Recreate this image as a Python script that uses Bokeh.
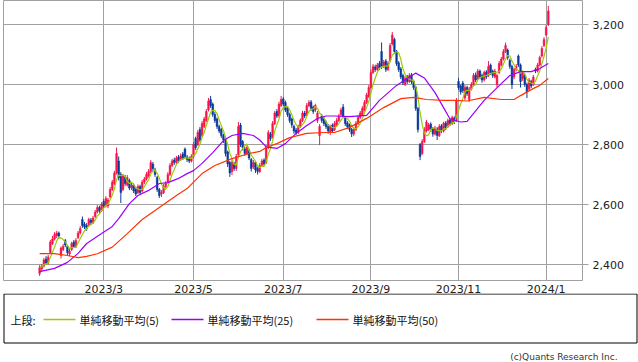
import pandas as pd
from bokeh.plotting import figure
from bokeh.models import Range1d, FixedTicker, NumeralTickFormatter, ColumnDataSource
from bokeh.embed import file_html
from bokeh.resources import INLINE
from bokeh.core.properties import value

# ---- daily OHLC (trading days, 2023/1/17 .. 2024/1/5) ----
opens = [2370,2385,2395,2418,2405,2440,2470,2485,2495,2505,
         2430,2450,2480,2460,2435,2450,2475,2460,2490,2505,
         2550,2535,2530,2530,2548,2540,2560,2575,2590,2580,
         2610,2595,2595,2625,2650,2670,2705,2745,2700,2650,
         2690,2665,2680,2655,2665,2650,2640,2660,2645,2675,
         2685,2695,2710,2735,2715,2690,2650,2635,2640,2660,
         2675,2700,2730,2748,2740,2758,2750,2768,2785,2758,
         2752,2745,2760,2820,2800,2850,2830,2860,2880,2915,
         2950,2935,2900,2885,2860,2850,2830,2815,2775,2740,
         2710,2735,2720,2765,2865,2810,2785,2770,2780,2750,
         2725,2740,2720,2710,2730,2748,2740,2790,2835,2825,
         2870,2910,2895,2930,2952,2940,2920,2900,2885,2860,
         2848,2840,2860,2880,2905,2900,2930,2942,2925,2915,
         2880,2830,2895,2885,2875,2862,2840,2865,2850,2865,
         2880,2900,2925,2890,2872,2865,2850,2835,2850,2870,
         2890,2900,2915,2940,2960,2990,3040,3058,3050,3070,
         3110,3060,3078,3050,3080,3135,3150,3110,3072,3052,
         3030,3000,3025,3010,3032,3010,2990,2920,2800,2770,
         2810,2845,2850,2868,2852,2835,2852,2830,2862,2845,
         2872,2860,2882,2870,2888,2880,3010,2995,3005,2955,
         2990,2950,2985,3000,3032,3020,3045,3030,3015,3042,
         3030,3065,3045,3025,3000,3040,3065,3085,3110,3115,
         3080,3060,3025,3050,3095,3065,3020,3030,3000,2985,
         3010,3000,3050,3045,3065,3095,3130,3165,3200]
closes = [2390,2395,2415,2405,2425,2475,2485,2500,2505,2495,
          2455,2460,2465,2440,2445,2470,2460,2480,2505,2520,
          2530,2525,2520,2550,2540,2555,2575,2590,2580,2600,
          2595,2620,2615,2650,2675,2705,2770,2690,2640,2695,
          2670,2690,2655,2665,2645,2635,2660,2640,2675,2685,
          2700,2710,2740,2720,2700,2650,2630,2640,2660,2670,
          2700,2730,2745,2740,2755,2745,2762,2755,2760,2750,
          2745,2760,2800,2790,2840,2815,2870,2885,2910,2945,
          2930,2900,2880,2860,2845,2830,2815,2770,2735,2705,
          2740,2720,2760,2860,2800,2790,2770,2790,2755,2720,
          2740,2715,2710,2730,2745,2735,2790,2840,2820,2870,
          2905,2895,2935,2950,2935,2915,2900,2880,2865,2845,
          2840,2860,2880,2905,2895,2930,2940,2920,2910,2930,
          2905,2860,2880,2870,2860,2845,2860,2845,2870,2880,
          2895,2915,2895,2870,2860,2850,2835,2850,2870,2890,
          2905,2920,2940,2965,2990,3040,3060,3050,3065,3055,
          3060,3075,3050,3070,3130,3165,3110,3070,3050,3025,
          3005,3020,3010,3030,3010,2990,2920,2850,2760,2810,
          2850,2875,2865,2850,2835,2855,2830,2860,2845,2870,
          2855,2880,2870,2890,2875,2945,2990,2975,2980,2990,
          2970,2985,3000,3030,3015,3045,3025,3015,3040,3025,
          3060,3040,3030,3045,3030,3070,3085,3110,3130,3090,
          3060,3000,3050,3060,3065,3010,3040,3000,2975,3015,
          2995,3025,3045,3065,3090,3120,3150,3190,3245]
highs = [2398,2402,2422,2428,2432,2482,2495,2508,2512,2510,
         2460,2468,2485,2465,2452,2476,2482,2488,2512,2528,
         2560,2542,2538,2556,2555,2562,2582,2598,2596,2608,
         2618,2628,2622,2658,2682,2712,2790,2760,2708,2702,
         2698,2698,2686,2672,2670,2656,2667,2666,2682,2692,
         2708,2718,2748,2742,2722,2695,2655,2648,2668,2678,
         2708,2738,2752,2756,2762,2765,2770,2775,2790,2765,
         2760,2768,2808,2826,2848,2858,2878,2892,2918,2955,
         2962,2940,2908,2890,2866,2855,2836,2820,2780,2745,
         2748,2742,2768,2875,2872,2815,2792,2798,2786,2755,
         2748,2745,2726,2738,2752,2754,2798,2848,2842,2878,
         2912,2918,2942,2962,2958,2946,2926,2906,2890,2866,
         2855,2866,2887,2912,2912,2938,2948,2948,2930,2936,
         2912,2868,2902,2892,2880,2868,2866,2870,2878,2888,
         2902,2922,2935,2895,2878,2870,2855,2858,2878,2898,
         2912,2928,2948,2972,2998,3050,3068,3066,3072,3078,
         3140,3082,3085,3078,3138,3175,3156,3115,3078,3058,
         3036,3028,3032,3038,3038,3016,2995,2925,2805,2818,
         2858,2882,2872,2874,2858,2862,2858,2868,2868,2876,
         2878,2886,2888,2896,2894,2955,3022,3000,3012,2998,
         2996,2992,3008,3038,3040,3052,3050,3036,3046,3048,
         3078,3070,3050,3052,3036,3078,3092,3118,3140,3120,
         3086,3066,3056,3068,3100,3070,3046,3036,3006,3022,
         3016,3032,3056,3072,3096,3128,3158,3198,3262]
lows = [2362,2378,2390,2400,2400,2435,2465,2480,2488,2485,
        2420,2445,2458,2432,2428,2445,2455,2455,2485,2500,
        2522,2518,2512,2525,2532,2535,2555,2570,2572,2575,
        2588,2590,2588,2620,2645,2665,2700,2680,2605,2645,
        2662,2660,2648,2648,2638,2628,2635,2632,2640,2668,
        2680,2690,2705,2712,2692,2642,2622,2625,2635,2655,
        2670,2695,2725,2732,2735,2738,2745,2748,2752,2742,
        2738,2740,2755,2782,2795,2808,2825,2855,2875,2910,
        2922,2892,2872,2852,2838,2822,2805,2760,2725,2692,
        2698,2712,2712,2760,2792,2780,2762,2765,2748,2710,
        2718,2705,2700,2705,2725,2728,2735,2785,2812,2820,
        2865,2888,2890,2925,2928,2908,2892,2872,2856,2836,
        2832,2835,2855,2875,2888,2895,2925,2912,2902,2908,
        2872,2798,2872,2862,2852,2836,2832,2838,2845,2860,
        2875,2895,2888,2862,2852,2842,2825,2828,2845,2865,
        2885,2895,2910,2935,2955,2985,3035,3042,3045,3048,
        3052,3055,3042,3045,3075,3130,3102,3062,3042,3018,
        2998,2995,3002,3005,3002,2982,2912,2840,2748,2765,
        2805,2840,2845,2842,2826,2830,2815,2825,2838,2840,
        2848,2855,2862,2865,2868,2875,2982,2966,2972,2948,
        2962,2942,2980,2995,3008,3015,3018,3006,3010,3018,
        3025,3032,3022,3020,2990,3035,3060,3080,3105,3082,
        3052,2985,3018,3044,3058,2990,3012,2992,2955,2980,
        2988,2995,3038,3040,3060,3090,3125,3160,3195]

# ---- moving averages 25 / 50 at sample bars ----
ma25_idx = [0,7,13,18,22,29,34,37,42,46,51,56,60,65,69,72,76,81,86,90,95,100,103,
            106,111,115,120,125,130,134,138,145,153,159,167,172,176,180,185,189,192,
            197,200,208,216,220,225,230,234,238]
ma25_val = [2376,2387,2407,2437,2470,2503,2527,2553,2603,2630,2647,2670,2673,2687,
            2703,2713,2737,2773,2813,2830,2837,2830,2815,2792,2787,2803,2837,2863,
            2887,2895,2895,2893,2897,2947,2997,3020,3038,3022,2973,2923,2885,2875,
            2877,2947,3003,3030,3043,3043,3053,3070]
ma50_idx = [0,7,13,18,22,27,34,41,48,56,64,69,76,82,90,98,103,106,111,117,125,133,
            138,145,153,161,169,175,181,189,195,200,208,216,222,225,230,234,238]
ma50_val = [2436,2436,2430,2423,2427,2436,2458,2503,2550,2590,2630,2653,2703,2730,
            2753,2770,2777,2790,2803,2823,2837,2840,2840,2857,2887,2923,2953,2957,
            2950,2947,2947,2945,2957,2950,2950,2963,2983,2997,3020]

tick_idx = [30, 72, 114, 155, 196, 237]
tick_labels = ["2023/3", "2023/5", "2023/7", "2023/9", "2023/11", "2024/1"]
y_ticks = [2400, 2600, 2800, 3000, 3200]

legend_labels = ["単純移動平均(5)", "単純移動平均(25)", "単純移動平均(50)"]
legend_colors = ["#99cc00", "#9b00ff", "#ff3300"]

UP = "#f5144b"
DOWN = "#0a3a9a"
GRID = "#a0a0a0"

idx = list(range(len(closes)))
ma5 = pd.Series(closes).rolling(5, min_periods=1).mean().tolist()
colors = [UP if c >= o else DOWN for o, c in zip(opens, closes)]
src = ColumnDataSource(dict(x=idx, o=opens, c=closes, h=highs, l=lows, col=colors,
                            top=[max(a, b) for a, b in zip(opens, closes)],
                            bot=[min(a, b) for a, b in zip(opens, closes)]))

p = figure(width=638, height=299, x_range=Range1d(-16.9, 254.0),
           y_range=Range1d(2346.7, 3280), y_axis_location="right",
           output_backend="svg", toolbar_location=None,
           min_border_left=3, min_border_right=56, min_border_top=0, min_border_bottom=19)
p.margin = (0, 0, -6, 0)
p.background_fill_color = "white"
p.outline_line_color = GRID
p.outline_line_width = 1

p.xaxis.ticker = FixedTicker(ticks=tick_idx)
p.xaxis.major_label_overrides = {t: l for t, l in zip(tick_idx, tick_labels)}
p.xaxis.axis_line_color = None
p.xaxis.major_tick_line_color = None
p.xaxis.major_tick_out = 0
p.xaxis.major_tick_in = 0
p.xaxis.minor_tick_line_color = None
p.xaxis.minor_tick_out = 0
p.xaxis.major_label_standoff = 2
p.xgrid.ticker = FixedTicker(ticks=tick_idx)

p.yaxis.ticker = FixedTicker(ticks=y_ticks)
p.yaxis.formatter = NumeralTickFormatter(format="0,0")
p.yaxis.axis_line_color = None
p.yaxis.major_tick_line_color = GRID
p.yaxis.major_tick_out = 6
p.yaxis.major_tick_in = 0
p.yaxis.minor_tick_line_color = None
p.yaxis.major_label_standoff = 4

for ax in (p.xaxis, p.yaxis):
    ax.major_label_text_font = "DejaVu Sans"
    ax.major_label_text_font_size = "11px"
    ax.major_label_text_color = "#222222"

p.grid.grid_line_color = GRID
p.grid.grid_line_width = 1

p.segment(x0="x", y0="h", x1="x", y1="l", line_color="col", line_width=1, source=src)
p.vbar(x="x", top="top", bottom="bot", width=0.8, fill_color="col", line_color="col",
       line_width=0.5, source=src)

p.line(idx, ma5, line_color=legend_colors[0], line_width=1.2)
p.line(ma25_idx, ma25_val, line_color=legend_colors[1], line_width=1.2)
p.line(ma50_idx, ma50_val, line_color=legend_colors[2], line_width=1.2)

# ---- legend panel (separate root, page y 293..362) ----
lg = figure(width=638, height=69, x_range=Range1d(0, 638), y_range=Range1d(69, 0),
            output_backend="svg", toolbar_location=None, x_axis_type=None, y_axis_type=None,
            min_border=0)
lg.outline_line_color = None
lg.grid.visible = False
lg.background_fill_alpha = 0
lg.border_fill_alpha = 0
lg.quad(left=[3.5], right=[636.5], top=[0.5], bottom=[49.5], fill_color=None,
        line_color="black", line_width=1)
jp = value("Noto Sans CJK JP")
lg.text(x=[10], y=[26], text=["上段:"], text_font=jp, text_font_size="11px",
        text_baseline="middle", text_align="left", text_color="#111111")
line_x0 = [43, 171, 316]
for x0, lab, colr in zip(line_x0, legend_labels, legend_colors):
    lg.line([x0, x0 + 32], [26, 26], line_color=colr, line_width=1.5)
    lg.text(x=[x0 + 36], y=[26], text=[lab], text_font=jp, text_font_size="11px",
            text_baseline="middle", text_align="left", text_color="#111111")
lg.text(x=[617], y=[63], text=["(c)Quants Research Inc."], text_font=value("DejaVu Sans"),
        text_font_size="9px", text_baseline="middle", text_align="right", text_color="#333333")

open("out.html", "w").write(file_html([p, lg], INLINE))
